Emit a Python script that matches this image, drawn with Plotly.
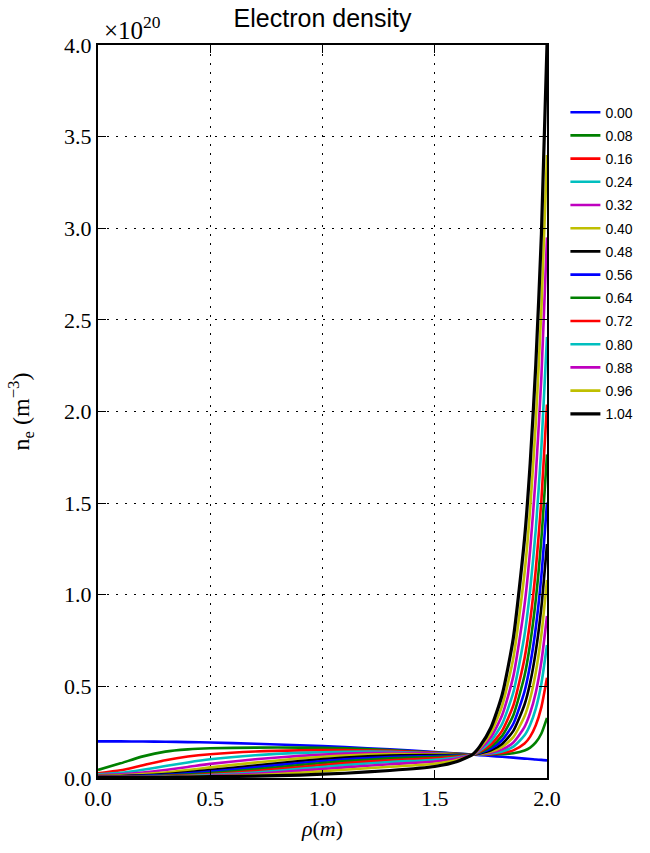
import plotly.graph_objects as go

# radial coordinate (m)
rho = [0.0, 0.1, 0.2, 0.3, 0.4, 0.5, 0.7, 0.9, 1.1, 1.3, 1.5, 1.6, 1.67,
       1.7, 1.75, 1.8, 1.85, 1.9, 1.925, 1.95, 1.975, 2.0]

# electron density in units of 1e20 m^-3, one profile per time
ne_000 = [0.200, 0.200, 0.199, 0.198, 0.196, 0.194, 0.187, 0.179, 0.169, 0.156, 0.142, 0.133, 0.128,
          0.125, 0.120, 0.116, 0.111, 0.106, 0.104, 0.101, 0.099, 0.096]
ne_008 = [0.044, 0.080, 0.118, 0.144, 0.156, 0.162, 0.166, 0.166, 0.162, 0.152, 0.139, 0.132, 0.128,
          0.128, 0.129, 0.130, 0.135, 0.150, 0.166, 0.194, 0.243, 0.328]
ne_016 = [0.026, 0.042, 0.070, 0.097, 0.117, 0.130, 0.145, 0.151, 0.152, 0.148, 0.137, 0.131, 0.128,
          0.128, 0.130, 0.136, 0.151, 0.188, 0.226, 0.288, 0.387, 0.547]
ne_024 = [0.020, 0.028, 0.045, 0.065, 0.085, 0.102, 0.124, 0.137, 0.143, 0.143, 0.135, 0.130, 0.128,
          0.129, 0.134, 0.145, 0.171, 0.233, 0.291, 0.379, 0.516, 0.726]
ne_032 = [0.015, 0.020, 0.030, 0.044, 0.060, 0.077, 0.102, 0.121, 0.133, 0.137, 0.133, 0.129, 0.128,
          0.131, 0.138, 0.156, 0.194, 0.279, 0.355, 0.467, 0.635, 0.884]
ne_040 = [0.012, 0.015, 0.021, 0.030, 0.043, 0.058, 0.084, 0.107, 0.123, 0.131, 0.130, 0.128, 0.128,
          0.132, 0.144, 0.170, 0.223, 0.337, 0.434, 0.576, 0.782, 1.081]
ne_048 = [0.010, 0.011, 0.015, 0.021, 0.031, 0.044, 0.068, 0.093, 0.112, 0.123, 0.125, 0.126, 0.128,
          0.134, 0.151, 0.186, 0.257, 0.401, 0.520, 0.691, 0.933, 1.277]
ne_056 = [0.008, 0.009, 0.012, 0.017, 0.025, 0.035, 0.058, 0.082, 0.102, 0.115, 0.120, 0.124, 0.128,
          0.137, 0.160, 0.206, 0.296, 0.473, 0.618, 0.820, 1.104, 1.503]
ne_064 = [0.007, 0.007, 0.009, 0.013, 0.019, 0.027, 0.047, 0.071, 0.092, 0.107, 0.115, 0.121, 0.128,
          0.140, 0.171, 0.230, 0.343, 0.559, 0.733, 0.973, 1.306, 1.766]
ne_072 = [0.006, 0.006, 0.007, 0.010, 0.014, 0.020, 0.038, 0.060, 0.081, 0.097, 0.108, 0.117, 0.128,
          0.144, 0.183, 0.257, 0.396, 0.654, 0.858, 1.137, 1.517, 2.038]
ne_080 = [0.005, 0.005, 0.006, 0.008, 0.011, 0.016, 0.030, 0.050, 0.070, 0.087, 0.100, 0.112, 0.128,
          0.149, 0.201, 0.295, 0.468, 0.782, 1.027, 1.357, 1.804, 2.407]
ne_088 = [0.005, 0.005, 0.005, 0.006, 0.008, 0.012, 0.023, 0.040, 0.058, 0.075, 0.090, 0.106, 0.128,
          0.155, 0.222, 0.342, 0.556, 0.945, 1.245, 1.650, 2.190, 2.950]
ne_096 = [0.004, 0.004, 0.004, 0.005, 0.006, 0.009, 0.016, 0.029, 0.045, 0.061, 0.078, 0.098, 0.129,
          0.163, 0.246, 0.394, 0.655, 1.120, 1.470, 1.940, 2.560, 3.400]
ne_104 = [0.004, 0.004, 0.004, 0.004, 0.005, 0.007, 0.010, 0.016, 0.026, 0.041, 0.063, 0.090, 0.130,
          0.171, 0.274, 0.453, 0.764, 1.307, 1.715, 2.254, 2.965, 4.000]

times = ["0.00", "0.08", "0.16", "0.24", "0.32", "0.40", "0.48",
         "0.56", "0.64", "0.72", "0.80", "0.88", "0.96", "1.04"]
profiles = [ne_000, ne_008, ne_016, ne_024, ne_032, ne_040, ne_048,
            ne_056, ne_064, ne_072, ne_080, ne_088, ne_096, ne_104]
colors = ["#0000ff", "#008000", "#ff0000", "#00bfbf", "#bf00bf", "#bfbf00", "#000000"]

y_ticks = [0.0, 0.5, 1.0, 1.5, 2.0, 2.5, 3.0, 3.5, 4.0]
x_ticks = [0.0, 0.5, 1.0, 1.5, 2.0]

fig = go.Figure()
for i, (t, prof) in enumerate(zip(times, profiles)):
    fig.add_trace(go.Scatter(
        x=rho, y=prof, mode="lines", name=t, legendgroup=t,
        line=dict(color=colors[i % 7], width=3.2 if i == len(times) - 1 else 2.6,
                  shape="spline", smoothing=0.6),
    ))

serif = "Liberation Serif, DejaVu Serif, serif"
sans = "Liberation Sans, Arial, sans-serif"

axis_common = dict(
    showline=True, linewidth=2, linecolor="black", mirror="allticks",
    ticks="inside", ticklen=8, tickwidth=1, tickcolor="black",
    showgrid=True, gridcolor="black", gridwidth=1, griddash="2px,7px",
    zeroline=False, tickfont=dict(family=serif, size=22, color="black"),
)

fig.update_layout(
    width=650, height=853,
    margin=dict(l=98, r=103, t=45, b=75),
    paper_bgcolor="white", plot_bgcolor="white",
    title=dict(text="Electron density", x=0.4962, xanchor="center",
               y=1 - 18 / 853, yanchor="middle",
               font=dict(family=sans, size=25, color="black")),
    xaxis=dict(range=[0, 2], tickvals=x_ticks,
               ticktext=[f"{v:.1f}" for v in x_ticks],
               title=dict(text="<i>ρ</i>(<i>m</i>)", standoff=10,
                          font=dict(family=serif, size=22, color="black")),
               **axis_common),
    yaxis=dict(range=[0, 4], tickvals=y_ticks,
               ticktext=[f"{v:.1f}" for v in y_ticks],
               title=dict(text="n<sub>e</sub> (m<sup>−3</sup>)", standoff=28,
                          font=dict(family=serif, size=24, color="black")),
               **axis_common),
    legend=dict(x=1.041, xanchor="left", y=0.9296, yanchor="top",
                font=dict(family=sans, size=14, color="black"),
                tracegroupgap=2, itemwidth=30, bgcolor="rgba(0,0,0,0)"),
    showlegend=True,
)

fig.add_annotation(text="×10<sup>20</sup>", xref="paper", yref="paper",
                   x=0.008, y=1 + 17 / 733, xanchor="left", yanchor="middle",
                   showarrow=False, font=dict(family=serif, size=25, color="black"))

fig.write_html("out.html")
